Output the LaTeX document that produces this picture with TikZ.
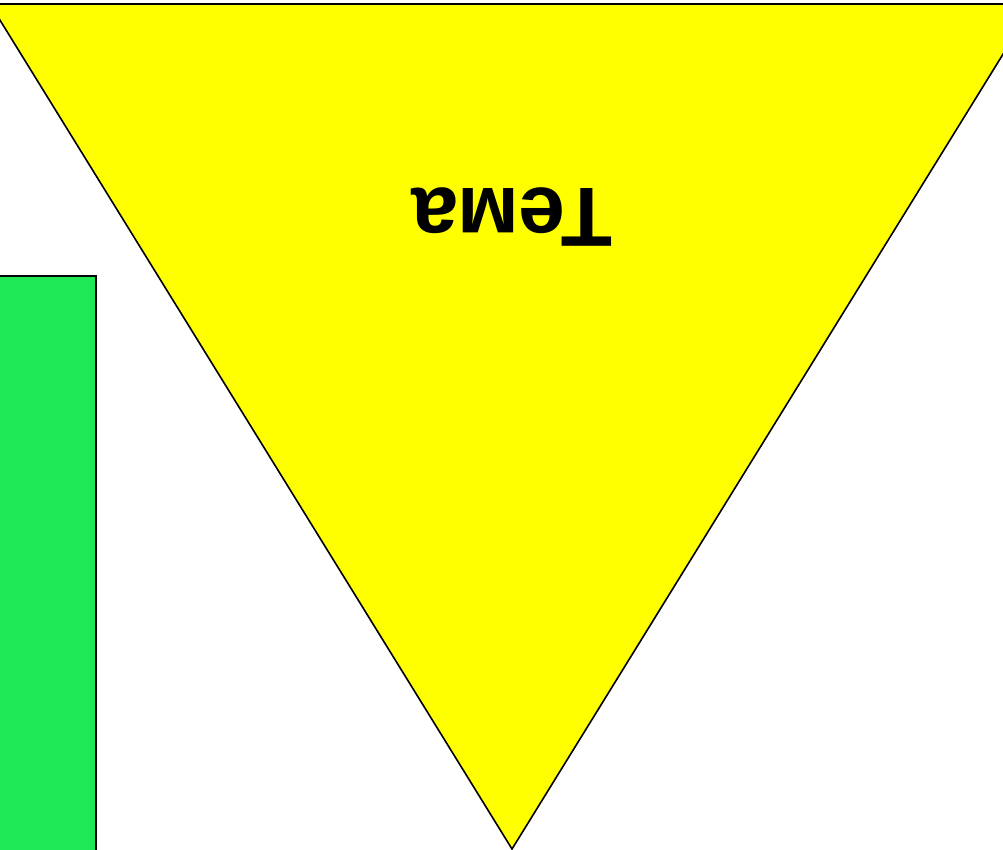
\documentclass[tikz,border=0pt]{standalone}
\usepackage{fontspec}
\setmainfont{Liberation Sans}
\definecolor{tyellow}{RGB}{255,255,0}
\definecolor{tgreen}{RGB}{30,232,86}
\begin{document}
\begin{tikzpicture}[x=1pt,y=-1pt,
  shapeline/.style={draw=black,line width=1.6pt,line join=miter}]
\useasboundingbox (0,0) rectangle (1003,849);
\clip (0,0) rectangle (1003,849);
\fill[white] (0,0) rectangle (1003,849);
\filldraw[shapeline,fill=tgreen] (-10,276) rectangle (96,870);
\filldraw[shapeline,fill=tyellow] (-10,4) -- (1034,4) -- (512,849) -- cycle;
\node[rotate=180,anchor=base,inner sep=0pt,font=\fontsize{84}{96}\selectfont\bfseries] (tema) at (512,188) {Тема};
\end{tikzpicture}
\end{document}
